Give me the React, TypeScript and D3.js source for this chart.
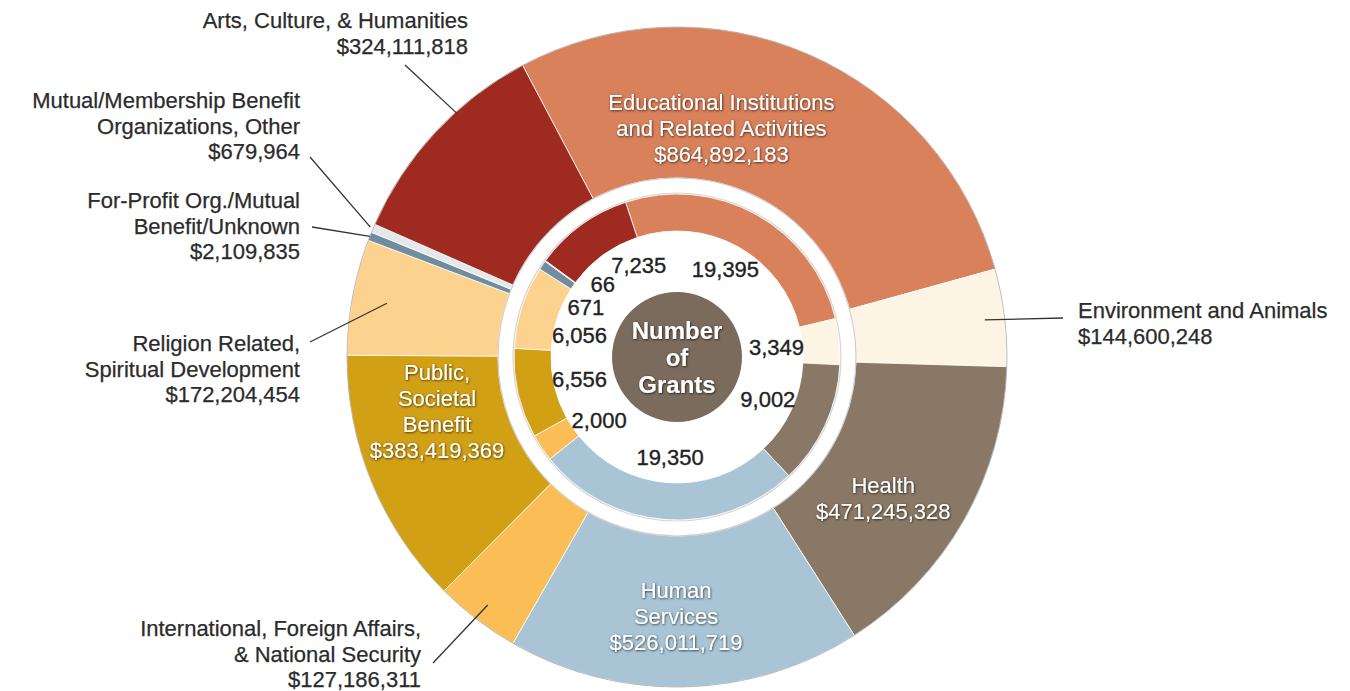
import React from "react";
import * as d3 from "d3";

// ---------- data ----------
const categories = [
  "Educational Institutions and Related Activities",
  "Environment and Animals",
  "Health",
  "Human Services",
  "International, Foreign Affairs, & National Security",
  "Public, Societal Benefit",
  "Religion Related, Spiritual Development",
  "For-Profit Org./Mutual Benefit/Unknown",
  "Mutual/Membership Benefit Organizations, Other",
  "Arts, Culture, & Humanities",
];
const categoryLines = [
  ["Educational Institutions", "and Related Activities"],
  ["Environment and Animals"],
  ["Health"],
  ["Human", "Services"],
  ["International, Foreign Affairs,", "& National Security"],
  ["Public,", "Societal", "Benefit"],
  ["Religion Related,", "Spiritual Development"],
  ["For-Profit Org./Mutual", "Benefit/Unknown"],
  ["Mutual/Membership Benefit", "Organizations, Other"],
  ["Arts, Culture, & Humanities"],
];
const amounts = [864892183, 144600248, 471245328, 526011719, 127186311, 383419369, 172204454, 2109835, 679964, 324111818];
const grantCounts = [19395, 3349, 9002, 19350, 2000, 6556, 6056, 671, 66, 7235];
const colors = ["#d8815b", "#fdf4e3", "#8a7866", "#a9c5d5", "#fbbd56", "#d2a015", "#fdd28f", "#6f8d9e", "#e4e8ea", "#9f2a20"];
const centerTitle = ["Number", "of", "Grants"];

// ---------- layout ----------
const W = 1350, H = 691, CX = 677, CY = 357;
const R_OUT = 330, R_OUT_IN = 179, R_IN_OUT = 163, R_IN_IN = 126, R_CENTER = 65;
const OUTER_START = -27.9, INNER_START = -18.4;
const MIN_SHARE = 0.0042;
const FONT = "'Liberation Sans', Arial, Helvetica, sans-serif";
const LH = 26;

const insideLabels: Record<number, { a: number; r: number }> = {
  0: { a: 11, r: 233 },
  2: { a: 124.4, r: 250 },
  3: { a: 180.2, r: 259 },
  5: { a: 257.3, r: 246 },
};
const outsideLabels: Record<number, { anchor: string; x: number; y: number; from: [number, number]; endR: number; da?: number }> = {
  1: { anchor: "start", x: 1078, y: 318, from: [1063, 318], endR: 310 },
  4: { anchor: "end", x: 421, y: 636, from: [433, 663], endR: 312 },
  6: { anchor: "end", x: 300, y: 351, from: [310, 342], endR: 295 },
  7: { anchor: "end", x: 300, y: 208, from: [312, 227], endR: 330 },
  8: { anchor: "end", x: 300, y: 108, from: [310, 157], endR: 333 },
  9: { anchor: "end", x: 468, y: 28, from: [405, 65], endR: 329, da: 5 },
};
const innerNudge: Record<number, { da?: number; r?: number }> = {
  4: { da: -5 },
  6: { da: -5 },
  7: { da: -5.5, r: 104 },
  8: { da: 8.4, r: 104 },
  9: { da: 13.6 },
};

const rad = (d: number) => (d * Math.PI) / 180;
const polar = (aRad: number, r: number): [number, number] => [CX + r * Math.sin(aRad), CY - r * Math.cos(aRad)];
const money = (v: number) => "$" + d3.format(",")(v);

export default function App() {
  const totalAmt = d3.sum(amounts);
  const outerPie = d3
    .pie<number>()
    .sort(null)
    .value((v) => Math.max(v, totalAmt * MIN_SHARE))
    .startAngle(rad(OUTER_START))
    .endAngle(rad(OUTER_START + 360));
  const innerPie = d3
    .pie<number>()
    .sort(null)
    .value((v) => v)
    .startAngle(rad(INNER_START))
    .endAngle(rad(INNER_START + 360));
  const outerArcs = outerPie(amounts);
  const innerArcs = innerPie(grantCounts);
  const outerArc = d3.arc<d3.PieArcDatum<number>>().innerRadius(R_OUT_IN).outerRadius(R_OUT);
  const innerArc = d3.arc<d3.PieArcDatum<number>>().innerRadius(R_IN_IN).outerRadius(R_IN_OUT);

  return (
    <svg
      width={W}
      height={H}
      style={{ position: "absolute", left: 0, top: 0, background: "#fff" }}
      fontFamily={FONT}
    >
      <defs>
        <filter id="shadow" x="-20%" y="-20%" width="140%" height="140%">
          <feDropShadow dx="0.6" dy="0.8" stdDeviation="0.9" floodColor="#000" floodOpacity="0.75" />
        </filter>
      </defs>
      <rect width={W} height={H} fill="#fff" />

      <g transform={`translate(${CX},${CY})`}>
        {outerArcs.map((d, i) => (
          <path key={"o" + i} d={outerArc(d) || ""} fill={colors[i]} stroke="#fff" strokeOpacity={0.8} strokeWidth={1} />
        ))}
        <circle r={R_OUT} fill="none" stroke="#000" strokeOpacity={0.25} strokeWidth={1} />
        <circle r={R_OUT_IN} fill="none" stroke="#cfcfcf" strokeWidth={1.2} />
        {innerArcs.map((d, i) => (
          <path key={"i" + i} d={innerArc(d) || ""} fill={colors[i]} stroke="#fff" strokeOpacity={0.8} strokeWidth={1} />
        ))}
        <circle r={R_IN_OUT + 1} fill="none" stroke="#d6d6d6" strokeWidth={1.2} />
        <circle r={R_CENTER} fill="#7b6b5c" />
      </g>

      {/* center title */}
      {centerTitle.map((t, k) => (
        <text
          key={"c" + k}
          x={CX}
          y={CY + (k - 1) * 27}
          dy="0.36em"
          textAnchor="middle"
          fontSize={24}
          fontWeight="bold"
          fill="#fff"
          filter="url(#shadow)"
        >
          {t}
        </text>
      ))}

      {/* inner number labels */}
      {innerArcs.map((d, i) => {
        const n = innerNudge[i] || {};
        const a = (d.startAngle + d.endAngle) / 2 + rad(n.da || 0);
        const [x, y] = polar(a, n.r || 100);
        return (
          <text
            key={"n" + i}
            x={x}
            y={y}
            dy="0.36em"
            textAnchor="middle"
            fontSize={22}
            fill="#222"
            stroke="#222"
            strokeWidth={0.35}
          >
            {d3.format(",")(grantCounts[i])}
          </text>
        );
      })}

      {/* inside wedge labels */}
      {Object.keys(insideLabels).map((key) => {
        const i = +key;
        const L = insideLabels[i];
        const [x, y] = polar(rad(L.a), L.r);
        const lines = [...categoryLines[i], money(amounts[i])];
        const y0 = y - ((lines.length - 1) / 2) * LH;
        return (
          <g key={"in" + i} filter="url(#shadow)">
            {lines.map((t, k) => (
              <text key={k} x={x} y={y0 + k * LH} dy="0.36em" textAnchor="middle" fontSize={22} fill="#fff">
                {t}
              </text>
            ))}
          </g>
        );
      })}

      {/* outside labels with leader lines */}
      {Object.keys(outsideLabels).map((key) => {
        const i = +key;
        const L = outsideLabels[i];
        const d = outerArcs[i];
        const a = (d.startAngle + d.endAngle) / 2 + rad(L.da || 0);
        const [ex, ey] = polar(a, L.endR);
        const lines = [...categoryLines[i], money(amounts[i])];
        return (
          <g key={"out" + i}>
            <line x1={L.from[0]} y1={L.from[1]} x2={ex} y2={ey} stroke="#333" strokeWidth={1.3} />
            {lines.map((t, k) => (
              <text
                key={k}
                x={L.x}
                y={L.y + k * (LH - 0.5)}
                textAnchor={L.anchor as any}
                fontSize={22}
                fill="#2b2b2b"
                stroke="#2b2b2b"
                strokeWidth={0.25}
              >
                {t}
              </text>
            ))}
          </g>
        );
      })}
    </svg>
  );
}
